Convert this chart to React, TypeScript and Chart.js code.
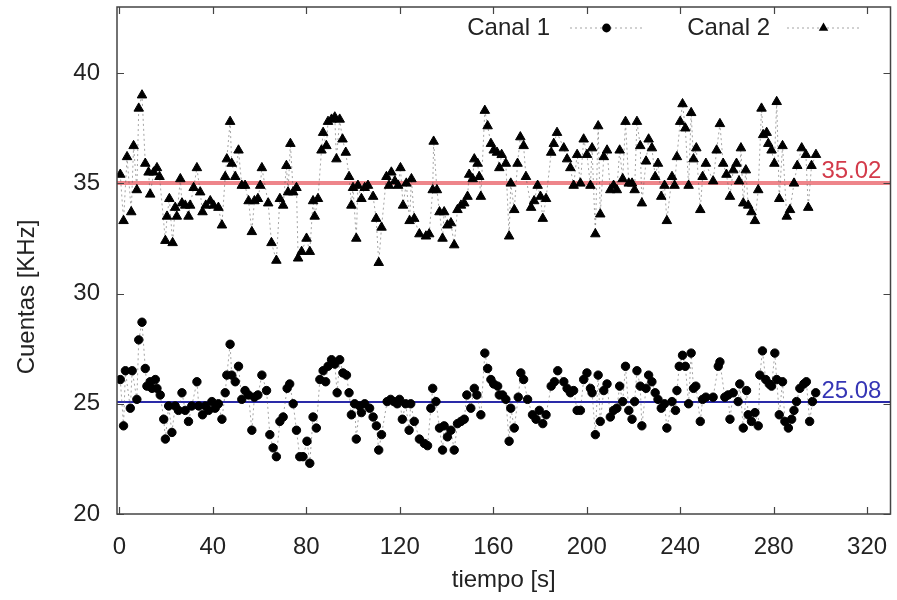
import { useEffect, useRef } from 'react';
import { Chart, registerables } from 'chart.js';

Chart.register(...registerables);

// ---- Data ----
const canal1Time = [
  0.4, 1.8, 2.6, 4.7, 5.5, 7.5, 8.3, 9.7, 11.1, 11.8, 13.2, 14.0, 15.4, 16.1, 17.5, 19.0, 19.7, 21.1, 22.5, 23.9,
  25.3, 26.8, 28.2, 29.6, 31.0, 33.2, 34.0, 35.6, 36.8, 38.2, 39.6, 41.0, 42.4, 43.9, 45.3, 46.0, 47.4, 48.1, 49.6, 51.0,
  52.4, 53.8, 55.3, 56.7, 57.8, 59.3, 61.0, 63.0, 64.4, 65.8, 67.2, 68.7, 70.1, 71.8, 72.9, 74.4, 75.8, 77.2, 78.6, 80.3,
  81.5, 82.9, 84.3, 85.8, 87.2, 88.3, 89.3, 90.8, 92.2, 93.2, 94.3, 95.7, 97.2, 98.3, 99.3, 100.7, 101.4, 102.8, 103.6, 105.0,
  107.1, 108.6, 110.0, 111.0, 112.2, 114.6, 116.1, 117.5, 118.9, 119.9, 121.1, 122.5, 124.0, 124.7, 126.2, 128.4, 130.5, 131.9, 133.3, 134.1,
  135.5, 137.0, 138.3, 139.0, 140.4, 141.9, 143.3, 144.7, 146.2, 147.6, 148.7, 150.4, 151.9, 153.0, 154.7, 156.4, 157.6, 159.0, 160.2, 161.9,
  162.6, 164.0, 165.4, 166.8, 167.5, 169.0, 170.7, 171.8, 173.0, 174.7, 176.8, 178.3, 179.7, 181.2, 182.6, 184.8, 186.2, 187.6, 190.2, 191.6,
  193.0, 194.4, 195.9, 197.3, 198.7, 200.1, 201.6, 202.3, 203.7, 204.9, 205.8, 207.3, 208.7, 210.1, 211.5, 212.9, 214.1, 215.4, 216.6, 218.0,
  219.4, 220.5, 221.5, 222.9, 223.6, 225.4, 226.5, 227.9, 229.3, 230.5, 231.9, 233.3, 234.3, 236.5, 238.0, 238.6, 239.6, 241.0, 242.2, 243.6,
  244.7, 245.7, 246.7, 248.6, 249.6, 251.0, 254.1, 256.3, 257.0, 259.1, 260.5, 261.3, 262.7, 264.8, 265.5, 267.0, 268.4, 269.1, 270.5, 272.0,
  273.4, 274.1, 275.2, 276.6, 278.1, 279.1, 280.5, 281.3, 282.4, 283.8, 284.8, 286.3, 287.7, 288.7, 289.8, 291.2, 292.9, 294.0, 295.4, 296.6,
  298.0,
];
const canal1Value = [
  26.1, 24.0, 26.5, 24.8, 26.5, 25.2, 27.9, 28.7, 26.6, 25.8, 26.0, 25.7, 26.1, 25.7, 25.4, 24.3, 23.4, 24.9, 23.7, 24.9,
  24.7, 25.5, 24.7, 24.2, 24.9, 26.0, 24.9, 24.5, 24.9, 24.7, 25.1, 24.8, 25.0, 24.3, 25.5, 26.3, 27.7, 26.3, 26.0, 26.7,
  25.2, 25.6, 25.4, 23.8, 25.3, 25.4, 26.3, 25.6, 23.6, 23.0, 22.6, 24.2, 24.4, 25.7, 25.9, 25.0, 23.8, 22.6, 22.6, 23.3,
  22.3, 24.4, 23.9, 26.1, 26.5, 26.0, 26.7, 27.0, 26.8, 25.5, 27.0, 26.4, 26.3, 25.5, 24.5, 25.0, 23.4, 24.9, 24.6, 25.0,
  24.8, 24.4, 24.0, 22.9, 23.6, 25.1, 25.2, 25.1, 25.0, 25.2, 24.3, 25.0, 23.8, 25.0, 24.2, 23.4, 23.2, 23.1, 24.8, 25.7,
  25.1, 23.9, 22.9, 24.0, 23.5, 23.8, 22.9, 24.1, 24.2, 24.3, 25.4, 24.8, 25.7, 25.4, 24.5, 27.3, 26.6, 26.1, 25.9, 25.8,
  25.4, 25.4, 25.2, 23.3, 24.8, 23.9, 25.3, 26.4, 26.1, 25.2, 24.5, 24.3, 24.7, 24.1, 24.5, 25.8, 26.0, 26.5, 26.0, 25.7,
  25.5, 25.6, 24.7, 24.7, 26.1, 26.4, 25.7, 25.5, 23.6, 26.3, 24.2, 25.6, 25.9, 24.4, 24.7, 24.8, 25.8, 25.1, 26.7, 24.7,
  24.3, 25.1, 26.5, 25.8, 24.0, 25.7, 26.3, 26.0, 25.5, 25.2, 24.8, 25.0, 23.9, 25.1, 24.7, 25.6, 26.7, 27.2, 26.7, 25.0,
  27.3, 25.7, 25.8, 24.2, 25.2, 25.3, 25.3, 26.7, 26.9, 25.3, 25.4, 24.3, 25.5, 25.1, 25.9, 23.9, 25.6, 24.5, 24.2, 24.6,
  24.0, 26.3, 27.4, 26.1, 25.9, 25.8, 27.3, 26.1, 24.5, 26.0, 24.2, 23.9, 24.3, 24.7, 25.1, 25.7, 25.9, 26.0, 24.2, 25.1,
  25.5,
];
const canal2Time = [
  0.4, 1.8, 3.3, 5.1, 6.1, 7.5, 8.3, 9.7, 11.1, 12.5, 13.2, 14.7, 16.1, 17.2, 19.7, 20.4, 21.4, 22.8, 23.9, 24.6,
  26.1, 26.8, 28.2, 29.6, 30.3, 31.8, 33.2, 34.6, 35.6, 37.0, 38.9, 40.3, 42.4, 43.9, 45.3, 46.0, 47.4, 48.1, 49.6, 51.0,
  52.4, 53.8, 55.3, 56.7, 57.8, 59.3, 60.3, 61.0, 63.7, 65.1, 67.2, 68.7, 70.1, 71.5, 72.2, 73.2, 74.4, 75.8, 76.5, 78.0,
  80.1, 81.5, 82.9, 83.6, 85.0, 86.5, 87.2, 88.6, 89.3, 90.8, 92.2, 92.9, 94.3, 95.5, 96.9, 98.3, 99.3, 100.0, 101.4, 102.1,
  103.6, 105.0, 106.4, 108.6, 109.9, 111.0, 112.2, 114.3, 115.4, 116.4, 117.9, 119.3, 120.3, 121.4, 122.8, 124.2, 125.0, 126.2, 128.4, 131.2,
  132.6, 134.1, 134.5, 135.9, 137.0, 138.3, 139.0, 140.4, 141.9, 143.3, 144.7, 146.2, 147.6, 149.0, 149.7, 151.2, 151.9, 153.3, 154.0, 154.7,
  156.4, 157.6, 159.0, 160.2, 161.6, 162.6, 163.6, 165.4, 166.8, 167.5, 169.0, 170.4, 171.6, 173.0, 174.0, 176.2, 177.5, 179.0, 180.2, 181.2,
  182.6, 184.8, 185.9, 187.3, 190.2, 191.6, 193.0, 194.4, 195.9, 197.3, 198.7, 200.1, 201.6, 202.3, 203.7, 204.9, 205.8, 207.3, 208.7, 210.1,
  211.5, 212.9, 214.1, 215.4, 216.6, 218.0, 219.4, 220.5, 221.5, 222.9, 223.6, 225.4, 226.5, 227.9, 229.3, 230.5, 231.9, 233.3, 234.3, 236.5,
  237.6, 238.6, 240.0, 241.0, 242.2, 243.6, 244.7, 245.7, 246.9, 248.6, 249.6, 251.0, 254.1, 255.6, 257.0, 258.4, 259.8, 261.3, 262.7, 264.1,
  265.2, 266.0, 267.0, 268.1, 269.1, 270.5, 272.0, 273.4, 274.8, 275.5, 277.0, 277.7, 279.1, 280.3, 281.3, 282.4, 283.8, 285.6, 287.0, 288.7,
  290.1, 292.0, 293.8, 294.8, 296.2, 298.1,
];
const canal2Value = [
  35.4, 33.3, 36.2, 33.7, 36.7, 34.7, 38.4, 39.0, 35.9, 35.5, 34.5, 35.5, 35.7, 35.3, 32.4, 33.5, 34.3, 32.3, 33.9, 33.5,
  35.2, 34.1, 34.0, 33.5, 34.0, 34.8, 35.7, 34.6, 33.7, 34.0, 34.2, 34.0, 33.9, 33.1, 35.3, 36.1, 37.8, 35.9, 35.3, 36.5,
  34.9, 34.9, 34.2, 32.8, 34.2, 34.3, 34.9, 35.7, 34.1, 32.3, 31.5, 34.3, 34.0, 35.8, 34.6, 36.8, 34.6, 34.8, 31.6, 31.9,
  32.5, 31.9, 34.2, 33.5, 34.3, 36.5, 37.3, 36.7, 37.8, 37.9, 38.0, 36.1, 37.9, 37.0, 36.4, 35.3, 34.0, 34.8, 32.5, 34.9,
  34.3, 34.8, 34.9, 34.4, 33.4, 31.4, 33.0, 35.3, 34.9, 35.5, 35.1, 34.9, 35.7, 34.0, 35.0, 33.3, 35.2, 33.4, 32.7, 32.6,
  32.7, 34.7, 36.9, 34.7, 33.7, 32.5, 33.7, 33.1, 33.2, 32.2, 33.8, 34.0, 34.1, 34.4, 35.4, 35.2, 36.1, 35.9, 35.3, 34.4,
  38.3, 37.6, 36.8, 36.5, 36.4, 35.7, 36.3, 35.9, 32.6, 35.0, 33.8, 35.9, 37.1, 36.7, 35.3, 33.9, 34.2, 34.9, 34.4, 33.4,
  34.3, 36.4, 36.8, 37.3, 36.6, 36.1, 35.7, 34.9, 36.3, 35.0, 37.0, 36.3, 34.9, 36.6, 32.7, 37.6, 33.6, 36.2, 36.5, 34.7,
  34.9, 34.7, 36.5, 35.2, 37.8, 35.0, 35.0, 34.7, 37.8, 36.7, 34.1, 36.0, 37.0, 36.6, 35.3, 35.9, 34.4, 34.9, 33.3, 35.3,
  34.9, 36.2, 37.8, 38.6, 37.5, 34.9, 38.2, 36.1, 36.6, 33.8, 35.3, 35.9, 35.1, 36.5, 37.7, 35.9, 35.4, 34.4, 35.6, 35.9,
  35.1, 36.6, 34.1, 35.6, 34.0, 33.7, 33.3, 34.7, 38.4, 37.2, 37.3, 36.8, 36.5, 35.9, 38.7, 34.3, 36.7, 33.5, 33.8, 35.0,
  35.8, 36.6, 36.3, 33.9, 35.8, 36.3,
];

const mean1 = 25.08;
const mean2 = 35.02;
const meanLabelTime = 300;
const seriesNames = ['Canal 1', 'Canal 2'];
const xTicks = [0, 40, 80, 120, 160, 200, 240, 280, 320];
const yTicks = [20, 25, 30, 35, 40];
const xMin = -1;
const xMax = 330;
const yMin = 20;
const yMax = 43;
const xTitle = 'tiempo [s]';
const yTitle = 'Cuentas [KHz]';

const FONT = '"Liberation Sans", Arial, Helvetica, sans-serif';
const FS = 24;
const TEXT = '#222';
const DOT_LINE = 'rgba(90,90,90,0.55)';

function drawTriangle(ctx: CanvasRenderingContext2D, x: number, y: number, r: number) {
  ctx.beginPath();
  let rad = 0;
  ctx.moveTo(x + Math.sin(rad) * r, y - Math.cos(rad) * r);
  rad += (2 * Math.PI) / 3;
  ctx.lineTo(x + Math.sin(rad) * r, y - Math.cos(rad) * r);
  rad += (2 * Math.PI) / 3;
  ctx.lineTo(x + Math.sin(rad) * r, y - Math.cos(rad) * r);
  ctx.closePath();
  ctx.fill();
}

const decorPlugin = {
  id: 'decor',
  beforeDatasetsDraw(chart: any) {
    const { ctx, chartArea: a, scales } = chart;
    const y = scales.y;
    ctx.save();
    let py = y.getPixelForValue(mean2);
    ctx.strokeStyle = 'rgba(236,120,125,0.9)';
    ctx.lineWidth = 4;
    ctx.beginPath();
    ctx.moveTo(a.left, py);
    ctx.lineTo(a.right, py);
    ctx.stroke();
    py = y.getPixelForValue(mean1);
    ctx.strokeStyle = '#2a2aa8';
    ctx.lineWidth = 2;
    ctx.beginPath();
    ctx.moveTo(a.left, py);
    ctx.lineTo(a.right, py);
    ctx.stroke();
    ctx.restore();
  },
  afterDraw(chart: any) {
    const { ctx, chartArea: a, scales } = chart;
    const x = scales.x;
    const y = scales.y;
    ctx.save();
    ctx.strokeStyle = '#444';
    ctx.lineWidth = 1.5;
    ctx.strokeRect(a.left, a.top, a.right - a.left, a.bottom - a.top);
    ctx.lineWidth = 1.2;
    const tl = 7;
    ctx.beginPath();
    for (const v of xTicks) {
      const px = Math.round(x.getPixelForValue(v)) + 0.5;
      ctx.moveTo(px, a.bottom);
      ctx.lineTo(px, a.bottom - tl);
      ctx.moveTo(px, a.top);
      ctx.lineTo(px, a.top + tl);
    }
    for (const v of yTicks) {
      const py = Math.round(y.getPixelForValue(v)) + 0.5;
      ctx.moveTo(a.left, py);
      ctx.lineTo(a.left + tl, py);
      ctx.moveTo(a.right, py);
      ctx.lineTo(a.right - tl, py);
    }
    ctx.stroke();

    ctx.font = `${FS}px ${FONT}`;
    ctx.textAlign = 'left';
    ctx.textBaseline = 'middle';
    const lx = x.getPixelForValue(meanLabelTime) + 1;
    ctx.fillStyle = '#d33a4a';
    ctx.fillText(mean2.toFixed(2), lx, y.getPixelForValue(mean2) - 12);
    ctx.fillStyle = '#3535b5';
    ctx.fillText(mean1.toFixed(2), lx, y.getPixelForValue(mean1) - 11);

    ctx.textAlign = 'right';
    const ly = a.top + 21;
    const entries = [
      { textRight: 550, x1: 570, x2: 643, tri: false },
      { textRight: 770, x1: 787, x2: 860, tri: true },
    ];
    entries.forEach((e, i) => {
      ctx.fillStyle = TEXT;
      ctx.fillText(seriesNames[i], e.textRight, ly);
      ctx.strokeStyle = DOT_LINE;
      ctx.lineWidth = 1;
      ctx.setLineDash([2, 3]);
      ctx.beginPath();
      ctx.moveTo(e.x1, ly);
      ctx.lineTo(e.x2, ly);
      ctx.stroke();
      ctx.setLineDash([]);
      ctx.fillStyle = '#000';
      const mx = (e.x1 + e.x2) / 2;
      if (e.tri) {
        drawTriangle(ctx, mx, ly, 5.5);
      } else {
        ctx.beginPath();
        ctx.arc(mx, ly, 4.4, 0, Math.PI * 2);
        ctx.fill();
      }
    });

    ctx.fillStyle = TEXT;
    ctx.textAlign = 'center';
    ctx.textBaseline = 'middle';
    ctx.fillText(xTitle, (a.left + a.right) / 2, 580);
    ctx.translate(27, 297);
    ctx.rotate(-Math.PI / 2);
    ctx.fillText(yTitle, 0, 0);
    ctx.restore();
  },
};

export default function App() {
  const canvasRef = useRef<HTMLCanvasElement | null>(null);

  useEffect(() => {
    const canvas = canvasRef.current;
    if (!canvas) return;
    const pts = (t: number[], v: number[]) => t.map((tt, i) => ({ x: tt, y: v[i] }));
    const zeroPad = (s: any) => {
      s.paddingTop = 0;
      s.paddingBottom = 0;
      s.paddingLeft = 0;
      s.paddingRight = 0;
    };
    const chart = new Chart(canvas, {
      type: 'scatter',
      data: {
        datasets: [
          {
            label: seriesNames[0],
            data: pts(canal1Time, canal1Value),
            showLine: true,
            borderColor: DOT_LINE,
            borderWidth: 1,
            borderDash: [2, 3],
            pointStyle: 'circle',
            pointRadius: 4.2,
            pointBorderWidth: 1,
            pointBackgroundColor: '#000',
            pointBorderColor: '#000',
          },
          {
            label: seriesNames[1],
            data: pts(canal2Time, canal2Value),
            showLine: true,
            borderColor: DOT_LINE,
            borderWidth: 1,
            borderDash: [2, 3],
            pointStyle: 'triangle',
            pointRadius: 5.5,
            pointBorderWidth: 1,
            pointBackgroundColor: '#000',
            pointBorderColor: '#000',
          },
        ],
      },
      options: {
        animation: false,
        responsive: false,
        devicePixelRatio: 1,
        layout: { padding: { top: 7, right: 6, left: 0, bottom: 0 } },
        plugins: { legend: { display: false }, tooltip: { enabled: false } },
        scales: {
          x: {
            type: 'linear',
            min: xMin,
            max: xMax,
            afterBuildTicks: (s: any) => {
              s.ticks = xTicks.map((v) => ({ value: v }));
            },
            afterFit: (s: any) => {
              s.height = 86;
              zeroPad(s);
            },
            grid: { display: false, drawTicks: false },
            border: { display: false },
            ticks: { font: { family: FONT, size: FS }, color: TEXT, padding: 19, maxRotation: 0 },
          },
          y: {
            type: 'linear',
            min: yMin,
            max: yMax,
            afterBuildTicks: (s: any) => {
              s.ticks = yTicks.map((v) => ({ value: v }));
            },
            afterFit: (s: any) => {
              s.width = 117;
              zeroPad(s);
            },
            grid: { display: false, drawTicks: false },
            border: { display: false },
            ticks: { font: { family: FONT, size: FS }, color: TEXT, padding: 17 },
          },
        },
      },
      plugins: [decorPlugin],
    });
    return () => chart.destroy();
  }, []);

  return (
    <div style={{ position: 'absolute', left: 0, top: 0, width: 897, height: 600, background: '#fff' }}>
      <canvas ref={canvasRef} width={897} height={600} />
    </div>
  );
}
